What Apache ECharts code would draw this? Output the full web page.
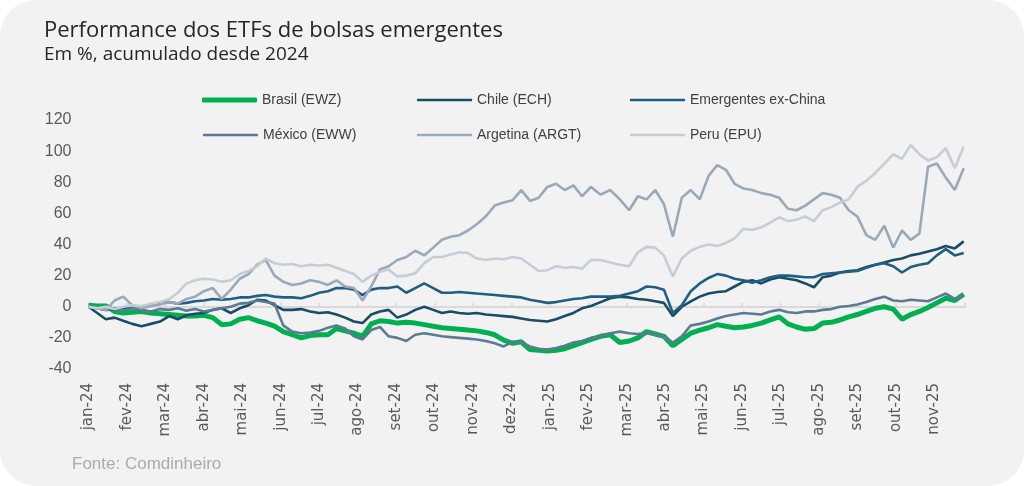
<!DOCTYPE html>
<html>
<head>
	<meta charset="utf-8">
	<title>Performance dos ETFs de bolsas emergentes</title>
	<script src="https://cdn.jsdelivr.net/npm/echarts@6.0.0/dist/echarts.min.js"></script>
	<style>
		html, body { margin: 0; padding: 0; background: #ffffff; }
		#chart { width: 1024px; height: 486px; background: #f2f2f2; border-radius: 36px; }
	</style>
</head>
<body>
	<div id="chart"></div>
	<script>
		// semanas (segunda-feira) de jan-24 a nov-25
		var datas = [
			'2024-01-01','2024-01-08','2024-01-15','2024-01-22','2024-01-29','2024-02-05','2024-02-12','2024-02-19','2024-02-26','2024-03-04',
			'2024-03-11','2024-03-18','2024-03-25','2024-04-01','2024-04-08','2024-04-15','2024-04-22','2024-04-29','2024-05-06','2024-05-13',
			'2024-05-20','2024-05-27','2024-06-03','2024-06-10','2024-06-17','2024-06-24','2024-07-01','2024-07-08','2024-07-15','2024-07-22',
			'2024-07-29','2024-08-05','2024-08-12','2024-08-19','2024-08-26','2024-09-02','2024-09-09','2024-09-16','2024-09-23','2024-09-30',
			'2024-10-07','2024-10-14','2024-10-21','2024-10-28','2024-11-04','2024-11-11','2024-11-18','2024-11-25','2024-12-02','2024-12-09',
			'2024-12-16','2024-12-23','2024-12-30','2025-01-06','2025-01-13','2025-01-20','2025-01-27','2025-02-03','2025-02-10','2025-02-17',
			'2025-02-24','2025-03-03','2025-03-10','2025-03-17','2025-03-24','2025-03-31','2025-04-07','2025-04-14','2025-04-21','2025-04-28',
			'2025-05-05','2025-05-12','2025-05-19','2025-05-26','2025-06-02','2025-06-09','2025-06-16','2025-06-23','2025-06-30','2025-07-07',
			'2025-07-14','2025-07-21','2025-07-28','2025-08-04','2025-08-11','2025-08-18','2025-08-25','2025-09-01','2025-09-08','2025-09-15',
			'2025-09-22','2025-09-29','2025-10-06','2025-10-13','2025-10-20','2025-10-27','2025-11-03','2025-11-10','2025-11-17','2025-11-24'
		];

		var meses = ['jan-24','fev-24','mar-24','abr-24','mai-24','jun-24','jul-24','ago-24','set-24','out-24','nov-24','dez-24',
			'jan-25','fev-25','mar-25','abr-25','mai-25','jun-25','jul-25','ago-25','set-25','out-25','nov-25'];

		var brasil = [
			1, 0.5, 0.5, -3, -4, -3.5, -3, -4, -4.5, -5,
			-5.5, -6, -6, -5.5, -7, -11.5, -11, -8, -7, -9,
			-10.5, -12.5, -16, -18, -20, -18.5, -18, -18, -14, -15.5,
			-17, -19, -11, -9, -9.5, -10.5, -10, -10.5, -11.5, -12.5,
			-13.5, -14, -14.5, -15, -15.5, -16.5, -18, -21.5, -23.5, -22.5,
			-27.5, -28, -28.5, -28, -27, -25, -23, -21, -19, -18,
			-23, -22, -20, -16, -17.5, -19, -25, -21, -17, -15,
			-13.5, -11.5, -12.5, -13.5, -13, -12, -10.5, -8.5, -6.5, -11,
			-13, -14.5, -14, -10.5, -10, -8.5, -6.5, -5, -3, -1,
			0, -1.5, -8, -5, -3, -0.5, 2.5, 5.5, 4, 8
		];
		var chile = [
			0, -4, -8, -7, -9, -11, -12.5, -11, -9.5, -6,
			-8, -5.5, -4.5, -4, -2, -1, -4, -1, 1, 4.5,
			4, 1, -2, -2, -1.5, -3, -4, -3.5, -5, -7,
			-9.5, -10.5, -5, -3, -2, -7, -5, -2, 0, -2,
			-4, -3, -4, -4.5, -4, -5, -5.5, -6, -6.5, -7.5,
			-8.5, -9, -9.5, -8, -6, -4, -1, 0.5, 3, 5.5,
			6.5, 6, 5, 4.5, 3.5, 2.5, -6, 0, 3.5, 6.5,
			8.5, 9.5, 10, 13, 16, 17, 15, 17.5, 19, 18,
			17, 15, 12.5, 19, 20, 22, 23, 23.5, 25.5, 27,
			28.5, 30, 31, 33, 34, 35.5, 37, 39, 37.5, 42
		];
		var exChina = [
			0, -1, -2, -1.5, -1, -0.5, 0, 1, 2.5, 3,
			2, 2.5, 3.5, 4, 5, 4.5, 5, 6, 6, 7,
			7.5, 6.5, 6, 6, 5.5, 7, 9, 10, 12, 12,
			11, 7.5, 11, 12, 12, 13, 9, 12, 15, 12,
			9, 9, 9.5, 9, 8.5, 8, 7.5, 7, 6.5, 6,
			4.5, 3.5, 2.5, 3, 4, 5, 5.5, 6.5, 6.5, 6.5,
			7, 8.5, 10, 13, 12.5, 11, -4, 1, 10, 15,
			18.5, 21, 20, 18, 17, 15.5, 17, 19, 20, 20,
			19.5, 19, 19, 21, 21.5, 22, 22.5, 23, 25, 27,
			28, 26, 22, 25.5, 27, 28, 33, 37, 33, 34.5
		];
		var mexico = [
			0, -1, -2, -1, -2.5, -1, -2, -3, -1.5, -2,
			-1, -2.5, -1.5, -3, -2, -1, 0, 2, 2.5, 4,
			3, 2, -12, -16, -17, -16.5, -15.5, -13.5, -12, -14,
			-19, -21, -15, -13, -19, -20, -22, -18, -17, -18,
			-19, -19.5, -20, -20.5, -21, -22, -23.5, -25.5, -22.5, -23,
			-25.5, -27, -27.5, -26.5, -25, -23, -22, -20, -19, -17,
			-16, -17, -17.5, -17, -18, -19, -23, -19, -12, -11,
			-9.5, -7.5, -6, -5, -4, -4.5, -5, -3, -2, -3.5,
			-4, -3, -3, -2, -1.5, 0, 0.5, 1.5, 3, 5,
			6.5, 4, 3.5, 4.5, 4, 3.5, 6, 8.5, 5, 7.5
		];
		var argentina = [
			0, -1, -2, 4, 6.5, 1, -1, 0.5, 1.5, 3,
			2, 5, 6.5, 10, 12, 5, 11, 18, 21, 27,
			30, 20, 16, 14, 15, 17, 16, 14, 17, 13,
			12, 4, 13, 24, 26, 30, 32, 36, 33, 38,
			43, 45, 46, 49, 53, 58, 65, 67, 68.5, 75,
			68, 70, 77, 79, 75, 78, 71, 77, 72, 75,
			69, 62, 71, 69, 75, 66, 45, 70, 75, 69,
			84, 91, 88, 79, 76, 75, 73, 72, 70, 63,
			62, 65, 69, 73, 72, 70, 62, 58, 46, 43,
			52, 38, 49, 43, 47, 90, 92, 83, 75, 89
		];
		var peru = [
			0, -1, 0, -1.5, 0, 1, 0.5, 2, 3, 5,
			9, 15, 17, 18, 17.5, 16, 17, 21, 23, 26,
			31, 28, 27, 27.5, 26, 27, 26.5, 27, 25, 23,
			21, 16, 20, 22.5, 24, 19.5, 20, 21.5, 28, 32,
			32, 33.5, 35, 34.5, 31, 30, 31, 30.5, 32, 31,
			27, 23, 23.5, 26, 25, 25.5, 24.5, 30, 30, 28.5,
			27, 26, 35, 38.5, 38, 33, 19.5, 31, 36, 38.5,
			40, 39, 41, 44, 50, 49.5, 51, 54, 57.5, 55,
			56, 58, 55, 62, 64, 67, 69, 77, 81, 86,
			92, 98, 95, 104, 98, 94, 96, 102, 89, 103
		];

		// posição no eixo em meses desde jan-24
		function mesDecimal(d) {
			var p = d.split('-');
			var ano = +p[0], mes = +p[1], dia = +p[2];
			var diasNoMes = new Date(ano, mes, 0).getDate();
			return (ano - 2024) * 12 + (mes - 1) + (dia - 1) / diasNoMes;
		}
		var xs = datas.map(mesDecimal);
		function pares(vals) {
			return vals.map(function (v, i) { return [xs[i], v]; });
		}

		var fonte = 'Liberation Sans, Arial, sans-serif';
		var serieInfo = [
			{ name: 'Brasil (EWZ)', data: brasil, color: '#00b050', width: 5 },
			{ name: 'Chile (ECH)', data: chile, color: '#1a4c66', width: 2.6 },
			{ name: 'Emergentes ex-China', data: exChina, color: '#1f5f82', width: 2.6 },
			{ name: 'México (EWW)', data: mexico, color: '#5b7a94', width: 2.6 },
			{ name: 'Argetina (ARGT)', data: argentina, color: '#9aa9b9', width: 2.6 },
			{ name: 'Peru (EPU)', data: peru, color: '#c5ced7', width: 2.6 }
		];
		var legendPos = [[202, 93], [417, 93], [630, 93], [203, 128], [417, 128], [630, 128]];

		var chart = echarts.init(document.getElementById('chart'));
		var xMax = 22.8;
		var option = {
			animation: false,
			title: [{
				text: 'Performance dos ETFs de bolsas emergentes',
				subtext: 'Em %, acumulado desde 2024',
				left: 44, top: 20, padding: 0, itemGap: 3,
				textStyle: { fontFamily: 'Open Sans', fontWeight: 'normal', fontSize: 22, color: '#262626' },
				subtextStyle: { fontFamily: 'Open Sans', fontSize: 19, color: '#262626' }
			}, {
				text: 'Fonte: Comdinheiro',
				left: 72, top: 456, padding: 0,
				textStyle: { fontFamily: fonte, fontWeight: 'normal', fontSize: 17, color: '#ababab' }
			}],
			legend: serieInfo.map(function (s, i) {
				return {
					data: [s.name], left: legendPos[i][0], top: legendPos[i][1], padding: 0,
					icon: 'roundRect', itemWidth: 55, itemHeight: i === 0 ? 5 : 2.6,
					textStyle: { fontFamily: fonte, fontSize: 14, color: '#404040' }
				};
			}),
			grid: { left: 88.5, right: 59, top: 120, bottom: 117 },
			xAxis: [{
				type: 'value', min: 0, max: xMax, interval: 1,
				axisLine: { show: false, onZero: false },
				axisTick: { show: false },
				splitLine: { show: false },
				axisLabel: {
					rotate: 90, margin: 14, showMaxLabel: false,
					fontFamily: 'DejaVu Sans', fontSize: 15, color: '#595959',
					formatter: function (v) { return meses[Math.round(v)] && Math.abs(v - Math.round(v)) < 0.01 ? meses[Math.round(v)] : ''; }
				}
			}, {
				type: 'value', min: 0, max: xMax, interval: 1,
				axisLine: { show: true, onZero: true, lineStyle: { color: '#d9d9d9', width: 2 } },
				axisTick: { show: true, length: 4, lineStyle: { color: '#d9d9d9', width: 1.5 } },
				axisLabel: { show: false },
				splitLine: { show: false }
			}],
			yAxis: {
				type: 'value', min: -40, max: 120, interval: 20,
				axisLine: { show: false }, axisTick: { show: false }, splitLine: { show: false },
				axisLabel: { margin: 17, fontFamily: fonte, fontSize: 16, color: '#595959' }
			},
			series: serieInfo.map(function (s) {
				return {
					name: s.name, type: 'line', xAxisIndex: 0, data: pares(s.data),
					showSymbol: false, symbol: 'none',
					lineStyle: { color: s.color, width: s.width },
					itemStyle: { color: s.color }
				};
			})
		};
		chart.setOption(option);
	</script>
</body>
</html>
